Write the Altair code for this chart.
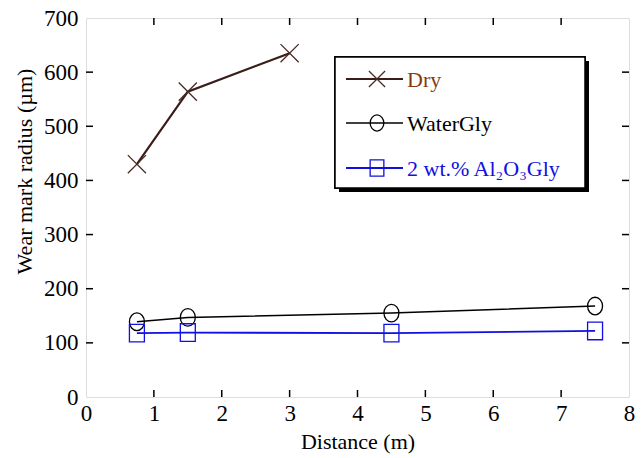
import altair as alt
import pandas as pd

series_names = ["Dry", "WaterGly", "2 wt.% Al\u2082O\u2083Gly"]
dry_x = [0.75, 1.5, 3.0]
dry_y = [430, 564, 635]
water_x = [0.75, 1.5, 4.5, 7.5]
water_y = [139, 147, 155, 168]
alu_x = [0.75, 1.5, 4.5, 7.5]
alu_y = [118, 119, 118, 122]

x_ticks = [1, 2, 3, 4, 5, 6, 7]
y_ticks = [100, 200, 300, 400, 500, 600]
x_labels = [0, 1, 2, 3, 4, 5, 6, 7, 8]
y_labels = [0, 100, 200, 300, 400, 500, 600, 700]

line_colors = ["#3a1d18", "#000000", "#1010e0"]
text_colors = ["#8a3a10", "#000000", "#1010e0"]
XPATH = "M-1,-1L1,1M-1,1L1,-1"
CPATH = "M0,-1A0.85,1 0 1,1 0,1A0.85,1 0 1,1 0,-1Z"
SPATH = "M-0.85,-1H0.85V1H-0.85Z"
shapes = [XPATH, CPATH, SPATH]

W, H = 543, 379
FONT = "Liberation Serif"

rows = []
for name, xs_, ys_ in [(series_names[0], dry_x, dry_y),
                       (series_names[1], water_x, water_y),
                       (series_names[2], alu_x, alu_y)]:
    for a, b in zip(xs_, ys_):
        rows.append({"series": name, "x": a, "y": b})
df = pd.DataFrame(rows)

xs = alt.Scale(domain=[0, 8], nice=False)
ys = alt.Scale(domain=[0, 700], nice=False)

base = alt.Chart(df)

axis_layer = alt.Chart(pd.DataFrame({"x": [0], "y": [0]})).mark_point(opacity=0).encode(
    x=alt.X("x:Q", scale=xs, title="Distance (m)",
            axis=alt.Axis(values=x_labels, format="d", ticks=False, domain=False, grid=False,
                          labelFont=FONT, labelFontSize=23, labelColor="#000",
                          labelPadding=5, titleFont=FONT, titleFontSize=22,
                          titleFontWeight="normal", titleColor="#000", titlePadding=6,
                          labelFlush=False)),
    y=alt.Y("y:Q", scale=ys, title="Wear mark radius (\u00b5m)",
            axis=alt.Axis(values=y_labels, format="d", ticks=False, domain=False, grid=False,
                          labelFont=FONT, labelFontSize=23, labelColor="#000",
                          labelPadding=8, titleFont=FONT, titleFontSize=22,
                          titleFontWeight="normal", titleColor="#000",
                          titleX=-62, titleY=153, titleAlign="center", titleBaseline="middle",
                          titleAngle=270, labelFlush=False)),
)

layers = [axis_layer]

sizes = [330, 310, 310]
for i, name in enumerate(series_names):
    sub = base.transform_filter(alt.datum.series == name)
    sw = 2.2 if i == 0 else (1.5 if i == 1 else 1.8)
    layers.append(sub.mark_line(color=line_colors[i], strokeWidth=sw).encode(
        x=alt.X("x:Q", scale=xs), y=alt.Y("y:Q", scale=ys)))
    layers.append(sub.mark_point(shape=shapes[i], filled=False,
                                 color=line_colors[i] if i != 0 else "#4a2a25",
                                 strokeWidth=1.3, size=sizes[i], opacity=1).encode(
        x=alt.X("x:Q", scale=xs), y=alt.Y("y:Q", scale=ys)))

# inward ticks
xt = alt.Chart(pd.DataFrame({"t": x_ticks}))
yt = alt.Chart(pd.DataFrame({"t": y_ticks}))
tick_style = dict(color="#000", strokeWidth=1.5)
layers.append(xt.mark_rule(**tick_style).encode(x=alt.X("t:Q", scale=xs), y=alt.value(H), y2=alt.value(H - 7)))
layers.append(xt.mark_rule(**tick_style).encode(x=alt.X("t:Q", scale=xs), y=alt.value(0), y2=alt.value(7)))
layers.append(yt.mark_rule(**tick_style).encode(y=alt.Y("t:Q", scale=ys), x=alt.value(0), x2=alt.value(7)))
layers.append(yt.mark_rule(**tick_style).encode(y=alt.Y("t:Q", scale=ys), x=alt.value(W), x2=alt.value(W - 7)))

# legend box
leg = alt.Chart(pd.DataFrame({"series": series_names}))
L, T, R, B = 249, 39, 499, 170
layers.append(leg.mark_rect(color="#000").encode(
    x=alt.value(L + 4), x2=alt.value(R + 4), y=alt.value(T + 4), y2=alt.value(B + 4)))
layers.append(leg.mark_rect(fill="#fff", stroke="#000", strokeWidth=1.5).encode(
    x=alt.value(L), x2=alt.value(R), y=alt.value(T), y2=alt.value(B)))
row_y = [61, 105, 150]
for i, name in enumerate(series_names):
    e = leg.transform_filter(alt.datum.series == name)
    ry = row_y[i]
    layers.append(e.mark_rule(color=line_colors[i], strokeWidth=2.2 if i != 1 else 1.5).encode(
        x=alt.value(L + 11), x2=alt.value(L + 68), y=alt.value(ry)))
    layers.append(e.mark_point(shape=shapes[i], filled=False,
                               color=line_colors[i] if i != 0 else "#4a2a25",
                               strokeWidth=1.3, size=260, opacity=1).encode(
        x=alt.value(L + 42), y=alt.value(ry)))
    layers.append(e.mark_text(align="left", baseline="middle", font=FONT, fontSize=22,
                              color=text_colors[i], dy=1).encode(
        x=alt.value(L + 72), y=alt.value(ry), text="series:N"))

chart = alt.layer(*layers).properties(
    width=W, height=H,
    autosize=alt.AutoSizeParams(type="none"),
    padding={"left": 86, "top": 18, "right": 15, "bottom": 61},
).configure_view(stroke="#000", strokeWidth=1.5).configure(background="#fff")

chart.save("out.html", embed_options={"renderer": "svg", "actions": False})
